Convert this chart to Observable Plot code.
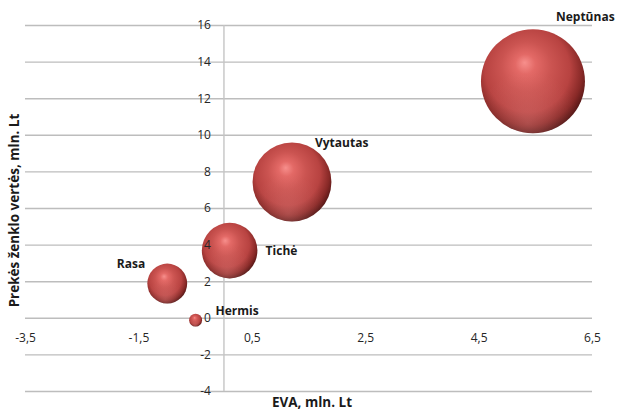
<!DOCTYPE html>
<html>
<head>
<meta charset="utf-8">
<script src="https://cdn.jsdelivr.net/npm/d3@7"></script>
<script src="https://cdn.jsdelivr.net/npm/@observablehq/plot@0.6"></script>
<style>
  html, body { margin: 0; padding: 0; background: #fff; }
  #chart svg { display: block; }
</style>
</head>
<body>
<div id="chart"></div>
<script>
// Brand value vs. EVA for Lithuanian beer brands
const brands = ["Neptūnas", "Vytautas", "Tichė", "Rasa", "Hermis"];
const eva = [5.45, 1.2, 0.1, -1.0, -0.5];          // EVA, mln. Lt
const brandValue = [12.95, 7.45, 3.7, 1.9, -0.1];  // brand value, mln. Lt
const bubbleSize = [12.95, 7.45, 3.7, 1.9, 0.2];   // bubble size
const xTicks = [-3.5, -1.5, 0.5, 2.5, 4.5, 6.5];
const yTicks = [-4, -2, 0, 2, 4, 6, 8, 10, 12, 14, 16];

const rows = brands.map((name, i) => ({
  name, x: eva[i], y: brandValue[i], size: bubbleSize[i]
}));

// label placement around each bubble
const labelOffset = {
  "Neptūnas": {dx: 23, dy: -64, anchor: "start"},
  "Vytautas": {dx: 23, dy: -39, anchor: "start"},
  "Tichė":    {dx: 36, dy: 1,   anchor: "start"},
  "Rasa":     {dx: -22, dy: -19, anchor: "end"},
  "Hermis":   {dx: 20, dy: -9,  anchor: "start"}
};

const fmt = d => String(d).replace(".", ",");
const font = "'Open Sans', sans-serif";

const labelMarks = rows.map(r => {
  const o = labelOffset[r.name];
  return Plot.text([r], {
    x: "x", y: "y", text: "name", dx: o.dx, dy: o.dy,
    textAnchor: o.anchor, fontWeight: "bold", fontSize: 12, fill: "#1a1a1a"
  });
});

const chart = Plot.plot({
  width: 617,
  height: 410,
  marginLeft: 25,
  marginRight: 25,
  marginTop: 25,
  marginBottom: 19,
  style: {fontFamily: font, background: "#fff"},
  x: {domain: [-3.5, 6.5], axis: null},
  y: {domain: [-4, 16], axis: null},
  r: {type: "sqrt", domain: [0, 12.95], range: [0, 52]},
  marks: [
    // horizontal gridlines
    Plot.ruleY(yTicks, {x1: -3.5, x2: 6.5, stroke: "#bdbdbd", strokeWidth: 1.4}),
    // vertical axis at EVA = 0
    Plot.ruleX([0], {y1: -4, y2: 16, stroke: "#c4c4c4", strokeWidth: 1.4}),
    // x tick labels below the zero line
    Plot.text(xTicks, {x: d => d, y: 0, text: d => fmt(d), dy: 20,
      fontSize: 12, fill: "#262626"}),
    // bubbles
    Plot.dot(rows, {x: "x", y: "y", r: "size", fill: "url(#bubbleFill)", stroke: "none"}),
    Plot.dot(rows, {x: "x", y: "y", r: "size", fill: "url(#bubbleRim)", stroke: "none"}),
    // y tick labels beside the vertical axis, drawn over the bubbles
    Plot.text(yTicks, {x: 0, y: d => d, text: d => fmt(d), dx: -13, textAnchor: "end",
      fontSize: 12, fill: "#262626"}),
    ...labelMarks,
    // axis titles
    Plot.text(["EVA, mln. Lt"], {frameAnchor: "bottom", textAnchor: "middle", lineAnchor: "middle",
      dx: 3, dy: 11, fontWeight: "bold", fontSize: 13.5, fill: "#1a1a1a"}),
    Plot.text(["Prekės ženklo vertės, mln. Lt"], {frameAnchor: "left", textAnchor: "middle",
      rotate: -90, lineAnchor: "middle", dx: -11, dy: 2, fontWeight: "bold", fontSize: 13.5,
      fill: "#1a1a1a"})
  ]
});

// shaded sphere fills for the bubbles
const defs = d3.select(chart).insert("defs", ":first-child");
defs.html(`
  <radialGradient id="bubbleFill" cx="0.46" cy="0.42" r="0.6" fx="0.42" fy="0.32">
    <stop offset="0%" stop-color="#f78f8c"/>
    <stop offset="16%" stop-color="#e36966"/>
    <stop offset="40%" stop-color="#cb5451"/>
    <stop offset="68%" stop-color="#b84341"/>
    <stop offset="86%" stop-color="#882927"/>
    <stop offset="100%" stop-color="#481211"/>
  </radialGradient>
  <radialGradient id="bubbleRim" cx="0.45" cy="0.9" r="0.5">
    <stop offset="0%" stop-color="#e88c8a" stop-opacity="0.35"/>
    <stop offset="60%" stop-color="#e88c8a" stop-opacity="0.12"/>
    <stop offset="100%" stop-color="#e88c8a" stop-opacity="0"/>
  </radialGradient>
`);

document.getElementById("chart").append(chart);
</script>
</body>
</html>
